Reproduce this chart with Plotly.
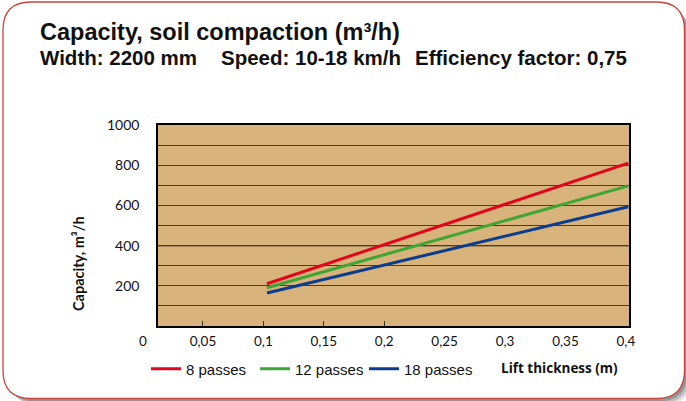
import plotly.graph_objects as go

# ---------------- data ----------------
series_names = ["8 passes", "12 passes", "18 passes"]
series_colors = ["#E3051B", "#3FA535", "#0A3D8F"]
lift_thickness = [0.103, 0.402]          # m
cap_8_passes = [210, 810]                # m3/h
cap_12_passes = [190, 697]
cap_18_passes = [164, 593]
series_values = [cap_8_passes, cap_12_passes, cap_18_passes]

x_tick_vals = [0.05, 0.1, 0.15, 0.2, 0.25, 0.3, 0.35, 0.4]
x_tick_text = ["0,05", "0,1", "0,15", "0,2", "0,25", "0,3", "0,35", "0,4"]
x_minor_ticks = [0.05, 0.1, 0.15, 0.2]
y_tick_vals = [100, 200, 300, 400, 500, 600, 700, 800, 900, 1000]
y_tick_text = ["", "200", "", "400", "", "600", "", "800", "", "1000"]
x_range = [0.0128, 0.4026]
y_range = [0, 1000]

title_text = "Capacity, soil compaction (m³/h)"
subtitle_parts = ["Width: 2200 mm", "Speed: 10-18 km/h", "Efficiency factor: 0,75"]

# ---------------- layout geometry (pixels) ----------------
FIG_W, FIG_H = 686, 401
PL, PR, PT, PB = 158, 629, 125, 326      # plot area edges
def px(x):
    return (x - PL) / (PR - PL)
def py(y):
    return (PB - y) / (PB - PT)

def rounded_rect(x0, y0, x1, y1, r):
    X0, X1 = px(x0), px(x1)
    Y0, Y1 = py(y0), py(y1)
    rx = r / (PR - PL)
    ry = r / (PB - PT)
    return (f"M {X0+rx},{Y0} L {X1-rx},{Y0} Q {X1},{Y0} {X1},{Y0-ry} "
            f"L {X1},{Y1+ry} Q {X1},{Y1} {X1-rx},{Y1} "
            f"L {X0+rx},{Y1} Q {X0},{Y1} {X0},{Y1+ry} "
            f"L {X0},{Y0-ry} Q {X0},{Y0} {X0+rx},{Y0} Z")

TICK_FONT = "Lato, 'Open Sans', sans-serif"
LABEL_FONT = "'Open Sans', Lato, sans-serif"
HEAD_FONT = "'Liberation Sans', Arial, sans-serif"

fig = go.Figure()
for name, color, vals in zip(series_names, series_colors, series_values):
    fig.add_trace(go.Scatter(x=lift_thickness, y=vals, mode="lines", name=name,
                             line=dict(color=color, width=3)))

shapes = []
# shadow layers
for off, op in [(7, 0.12), (5, 0.16), (3, 0.2)]:
    shapes.append(dict(type="path", xref="paper", yref="paper", layer="below",
                       path=rounded_rect(3 + off, 2 + off, 684.5 + off, 398.5 + off, 30),
                       fillcolor=f"rgba(0,0,0,{op})", line=dict(width=0)))
# white card with red border
shapes.append(dict(type="path", xref="paper", yref="paper", layer="below",
                   path=rounded_rect(3, 2, 684.5, 398.5, 28),
                   fillcolor="white", line=dict(color="#C8443A", width=1.3)))
# plot background (tan)
shapes.append(dict(type="rect", xref="paper", yref="paper", layer="below",
                   x0=0, x1=1, y0=0, y1=1, fillcolor="#D8B37B", line=dict(width=0)))
# darker 400 line
shapes.append(dict(type="line", xref="paper", yref="y", layer="between",
                   x0=0, x1=1, y0=y_tick_vals[3], y1=y_tick_vals[3],
                   line=dict(color="#000000", width=1.3)))

annotations = [
    dict(text=f"<b>{title_text}</b>", x=px(38), y=py(32),
         xref="paper", yref="paper", xanchor="left", yanchor="middle", showarrow=False,
         font=dict(family=HEAD_FONT, size=23.5, color="#111")),
]
for part, xpos in zip(subtitle_parts, [38, 219, 413]):
    annotations.append(dict(text=f"<b>{part}</b>", x=px(xpos), y=py(57),
                            xref="paper", yref="paper", xanchor="left", yanchor="middle",
                            showarrow=False, font=dict(family=HEAD_FONT, size=20.5, color="#111")))
annotations += [
    dict(text="<b>Capacity, m³/h</b>", x=px(78), y=py(264), xref="paper", yref="paper",
         textangle=-90, showarrow=False, xanchor="center", yanchor="middle",
         font=dict(family=TICK_FONT, size=14.5, color="#111")),
    dict(text="<b>Lift thickness (m)</b>", x=px(499), y=py(368), xref="paper", yref="paper",
         xanchor="left", yanchor="middle", showarrow=False,
         font=dict(family=LABEL_FONT, size=13.5, color="#111")),
    dict(text="0", x=(0 - x_range[0]) / (x_range[1] - x_range[0]), y=py(341),
         xref="paper", yref="paper", xanchor="center", yanchor="middle", showarrow=False,
         font=dict(family=TICK_FONT, size=13.5, color="#111")),
]

fig.update_layout(
    width=FIG_W, height=FIG_H,
    margin=dict(l=PL, r=FIG_W - PR, t=PT, b=FIG_H - PB, pad=0),
    paper_bgcolor="white", plot_bgcolor="rgba(0,0,0,0)",
    shapes=shapes, annotations=annotations,
    showlegend=True,
    legend=dict(orientation="h", x=px(146), y=py(369), xanchor="left", yanchor="middle",
                font=dict(family=HEAD_FONT, size=15, color="#111"),
                bgcolor="rgba(0,0,0,0)", entrywidth=64, entrywidthmode="pixels",
                itemwidth=30, traceorder="normal"),
    xaxis=dict(range=x_range, tickmode="array", tickvals=x_tick_vals, ticktext=x_tick_text,
               ticks="", showgrid=False, zeroline=False,
               showline=True, mirror=True, linecolor="#000", linewidth=1.5,
               tickfont=dict(family=TICK_FONT, size=13.5, color="#111"),
               ticklabelstandoff=2,
               minor=dict(tickmode="array", tickvals=x_minor_ticks, ticks="inside",
                          ticklen=5, tickcolor="#333", tickwidth=1, showgrid=False)),
    yaxis=dict(range=y_range, tickmode="array", tickvals=y_tick_vals, ticktext=y_tick_text,
               ticks="", showgrid=True, gridcolor="#4A3E2E", gridwidth=1.3, zeroline=False,
               showline=True, mirror=True, linecolor="#000", linewidth=1.5,
               tickfont=dict(family=TICK_FONT, size=14, color="#111"),
               ticklabelstandoff=14),
)

fig.write_html("out.html", config={"displayModeBar": False},
               post_script="document.body.style.margin='0px';")
